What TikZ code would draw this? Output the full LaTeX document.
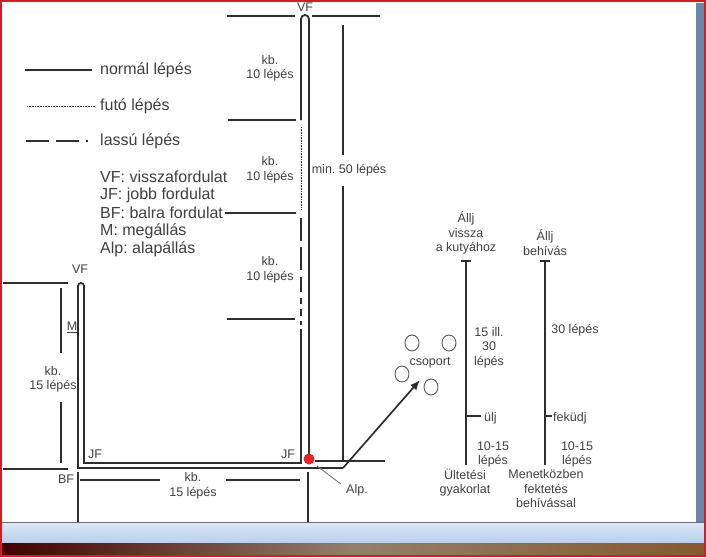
\documentclass[tikz,border=0pt]{standalone}
\usepackage{fontspec}
\setmainfont{Liberation Sans}
\usetikzlibrary{arrows.meta}
\frenchspacing
\definecolor{ink}{HTML}{2E2E2E}
\definecolor{txt}{HTML}{404040}
\definecolor{alpred}{HTML}{E82028}
\definecolor{framered}{HTML}{D01E28}
\definecolor{scrollbar}{HTML}{6A84AC}
\definecolor{barlight}{HTML}{DCE8F7}
\definecolor{barmid}{HTML}{B9CFEC}
\begin{document}
\begin{tikzpicture}[x=1pt,y=-1pt,
  ln/.style={draw=ink,line width=1.8pt},
  dotline/.style={draw=ink,line width=1pt,dash pattern=on 0.8pt off 0.8pt},
  lbl/.style={text=txt,font=\fontsize{12.5}{14.5}\selectfont,inner sep=0pt,align=center},
  leg/.style={text=txt,font=\fontsize{16}{18}\selectfont,inner sep=0pt,anchor=west},
  grp/.style={draw=ink!80,line width=0.9pt}]
\useasboundingbox (0,0) rectangle (706,557);
% window chrome
\fill[white] (0,0) rectangle (706,557);
\fill[scrollbar] (696,3) rectangle (704,522);
\shade[top color=barlight,bottom color=barmid] (0,522) rectangle (706,543);
\draw[ink!70,line width=1pt] (0,522.5) -- (706,522.5);
\shade[left color=black!75!red,right color=brown!70!black,middle color=gray!70!brown] (0,543) rectangle (706,555);
\draw[framered,line width=2pt] (1,1) rectangle (705,556);

% legend
\draw[ln] (25,70) -- (92,70);
\node[leg] (l1) at (100,70) {normál lépés};
\draw[dotline] (27,106) -- (95,106);
\node[leg] (l2) at (100,106) {futó lépés};
\draw[ln] (26,141) -- (49,141) (56,141) -- (79,141) (86,141) -- (88,141);
\node[leg] (l3) at (100,141) {lassú lépés};
\node[leg] (d1) at (100,177) {VF: visszafordulat};
\node[leg] (d2) at (100,195) {JF: jobb fordulat};
\node[leg] (d3) at (100,213) {BF: balra fordulat};
\node[leg] (d4) at (100,231) {M: megállás};
\node[leg] (d5) at (100,249) {Alp: alapállás};

% top hairpin and the long straight
\coordinate (alp) at (309,459);
\draw[ln,rounded corners=4pt] (309,455) -- (309,15) -- (301,15) -- (301,120);
\draw[dotline] (301,127) -- (301,210);
\draw[ln] (301,218) -- (301,241) (301,247) -- (301,270) (301,277) -- (301,292)
          (301,298) -- (301,304) (301,309) -- (301,316) (301,321) -- (301,325);
\draw[ln] (301,329) -- (301,463) -- (84,463) [rounded corners=3pt] -- (84,283) -- (78,283) [sharp corners] -- (78,468) -- (343,468);
\coordinate (grpc) at (420,380);
\draw[draw=ink,line width=1.7pt,-{Latex[length=10pt,width=8pt]}] (343,468) -- (grpc);
\fill[alpred] (alp) circle (5.5pt);

% top measurement lines
\draw[ln] (227,16) -- (295,16) (312,16) -- (380,16);
\draw[ln] (228,120) -- (296,120);
\draw[ln] (d3.east) ++(2,0) -- (296,213);
\draw[ln] (227,319) -- (295,319);
\node[lbl] (vf1) at (305,7) {VF};
\node[lbl] (s1) at (270,68.5) {kb.\\10 lépés};
\node[lbl] (s2) at (270,170) {kb.\\10 lépés};
\node[lbl] (s3) at (270,270) {kb.\\10 lépés};
\node[lbl] (m50) at (349,170) {min. 50 lépés};
\draw[ln] (343,25) -- (343,155) (343,186) -- (343,461);
\draw[ln] (315,461) -- (385,461);

% left side
\draw[ln] (3,283) -- (68,283) (3,469) -- (68,469);
\draw[ln] (61,288) -- (61,353) (61,402) -- (61,463);
\node[lbl] (s4) at (53,379.5) {kb.\\15 lépés};
\node[lbl] (mm) at (72,327) {\underline{M}};
\node[lbl] (vf2) at (80,269) {VF};
\node[lbl] (jf1) at (95,454) {JF};
\node[lbl] (jf2) at (288,454) {JF};
\node[lbl] (bf) at (66,479) {BF};

% bottom measurement
\draw[ln] (78,472) -- (78,522) (308,472) -- (308,522);
\draw[ln] (80,480) -- (160,480) (226,480) -- (300,480);
\node[lbl] (s5) at (193,486) {kb.\\15 lépés};
\node[lbl] (alpl) at (357,490) {Alp.};
\draw[draw=ink!70,line width=0.8pt] (317,466) -- (341,484);

% group
\draw[grp] (412,343) ellipse [x radius=7pt, y radius=8pt];
\draw[grp] (449,343) ellipse [x radius=7pt, y radius=8pt];
\draw[grp] (402,374) ellipse [x radius=7pt, y radius=8pt];
\draw[grp] (431,387) ellipse [x radius=7pt, y radius=8pt];
\node[lbl] (cs) at (430,363) {csoport};

% right exercises
\draw[ln] (466,261) -- (466,465) (461,261) -- (471,261) (466,416) -- (481,416);
\draw[ln] (545,261) -- (545,465) (540,261) -- (550,261) (545,416) -- (552,416);
\node[lbl] (t1) at (466,233) {Állj\\vissza\\a kutyához};
\node[lbl] (t2) at (545,242.5) {Állj\\behívás};
\node[lbl] (a1) at (489,347.5) {15 ill.\\30\\lépés};
\node[lbl] (a2) at (575,330) {30 lépés};
\node[lbl,anchor=west] (u1) at (484,418) {ülj};
\node[lbl,anchor=west] (u2) at (553,418) {feküdj};
\node[lbl] (b1) at (493,454.5) {10-15\\lépés};
\node[lbl] (b2) at (577,454.5) {10-15\\lépés};
\node[lbl] (e1) at (465,482.5) {Ültetési\\gyakorlat};
\node[lbl] (e2) at (546,489) {Menetközben\\fektetés\\behívással};
\end{tikzpicture}
\end{document}
